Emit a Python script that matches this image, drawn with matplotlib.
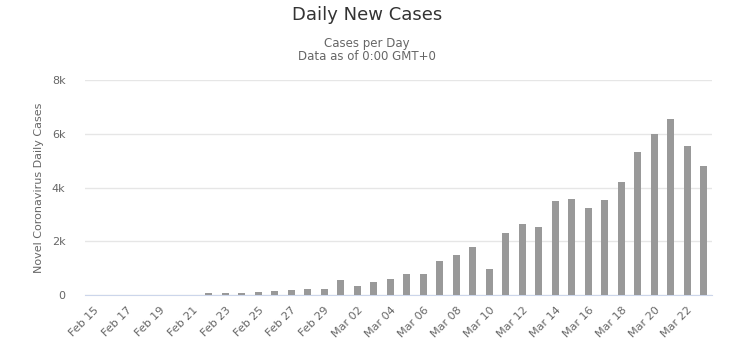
import matplotlib
matplotlib.use("Agg")
import matplotlib.pyplot as plt
from matplotlib.ticker import FuncFormatter

plt.rcParams["font.family"] = ["DejaVu Sans"]

# daily new cases, Feb 15 .. Mar 23
dates = (
    [f"Feb {d}" for d in range(15, 30)]
    + [f"Mar {d:02d}" for d in range(1, 24)]
)
cases = [
    0, 0, 0, 0, 0, 0, 17, 59, 78, 72, 94, 147, 185, 234, 239,
    573, 335, 466, 587, 769, 778, 1247, 1492, 1797, 977, 2313, 2651, 2547,
    3497, 3590, 3233, 3526, 4207, 5322, 5986, 6557, 5560, 4789,
]
y_ticks = [0, 2000, 4000, 6000, 8000]

fig = plt.figure(figsize=(7.34, 3.52), dpi=100)
ax = fig.add_axes([85 / 734, 57 / 352, 627 / 734, 215 / 352])

x = range(len(dates))
ax.bar(x, cases, width=0.42, color="#999999", zorder=3)

ax.set_xlim(-0.5, len(dates) - 0.5)
ax.set_ylim(0, 8000)
ax.set_yticks(y_ticks)
ax.yaxis.set_major_formatter(FuncFormatter(lambda v, _: "0" if v == 0 else f"{int(v / 1000)}k"))
ax.grid(axis="y", color="#e6e6e6", linewidth=1, zorder=0)
ax.tick_params(axis="y", length=0, pad=14, labelsize=8, labelcolor="#666666")

tick_pos = list(range(0, len(dates), 2))
ax.set_xticks(tick_pos)
ax.set_xticklabels([dates[i] for i in tick_pos], rotation=45, ha="right",
                   rotation_mode="anchor", fontsize=8, color="#666666")
ax.tick_params(axis="x", length=0, pad=7)

for side in ("top", "right", "left"):
    ax.spines[side].set_visible(False)
ax.spines["bottom"].set_color("#ccd6eb")

ax.set_ylabel("Novel Coronavirus Daily Cases", fontsize=8, color="#666666", labelpad=6)

fig.text(0.5, 1 - 15 / 352, "Daily New Cases", ha="center", va="center",
         fontsize=13, color="#333333")
fig.text(0.5, 1 - 43 / 352, "Cases per Day", ha="center", va="center",
         fontsize=8.5, color="#666666")
fig.text(0.5, 1 - 57 / 352, "Data as of 0:00 GMT+0", ha="center", va="center",
         fontsize=8.5, color="#666666")

fig.savefig("out.png", dpi=100)
